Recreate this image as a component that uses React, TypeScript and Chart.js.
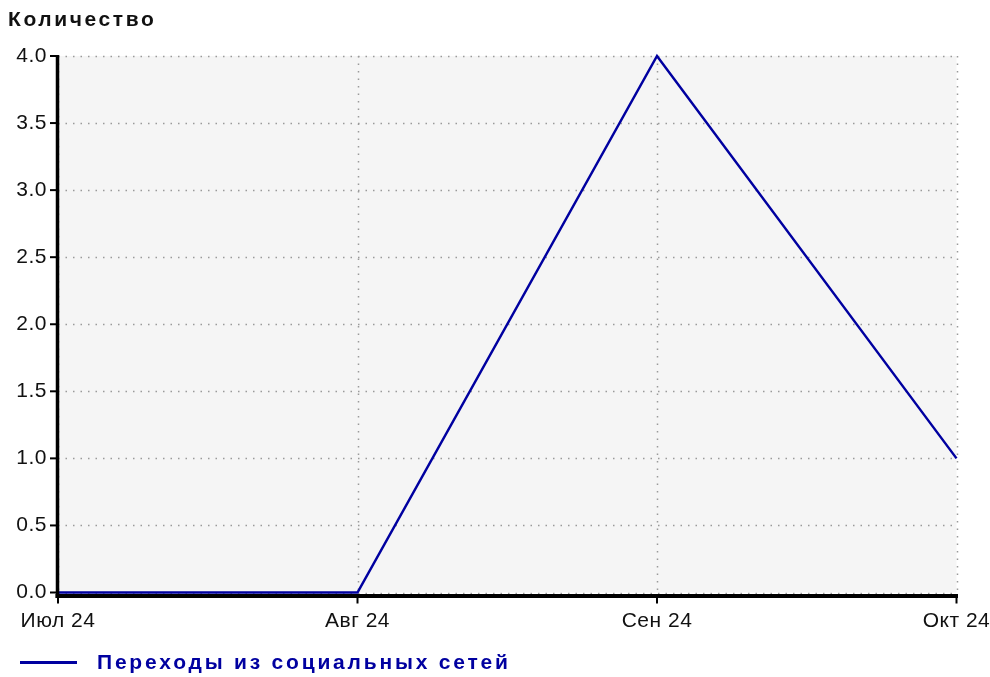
import React, { useEffect, useRef } from "react";
import { Chart, registerables } from "chart.js";

Chart.register(...registerables);

const categories = ["Июл 24", "Авг 24", "Сен 24", "Окт 24"];
const seriesValues = [0, 0, 4, 1];
const seriesName = "Переходы из социальных сетей";
const yTitle = "Количество";
const yTicks = [0, 0.5, 1, 1.5, 2, 2.5, 3, 3.5, 4];

const LINE_COLOR = "#0000a0";
const FONT = "'Liberation Sans', Arial, sans-serif";

const decorPlugin = {
  id: "decor",
  beforeLayout(chart: any) {
    chart.ctx.letterSpacing = "0.5px";
  },
  beforeDraw(chart: any) {
    const { ctx, chartArea } = chart;
    ctx.save();
    ctx.fillStyle = "#ffffff";
    ctx.fillRect(0, 0, chart.width, chart.height);
    ctx.fillStyle = "#f5f5f5";
    ctx.fillRect(chartArea.left, chartArea.top, chartArea.right - chartArea.left, chartArea.bottom - chartArea.top);
    ctx.restore();
    ctx.letterSpacing = "0.5px";
  },
  beforeDatasetsDraw(chart: any) {
    const { ctx, chartArea } = chart;
    const xs = chart.scales.x;
    const ys = chart.scales.y;
    ctx.save();
    ctx.strokeStyle = "#9a9a9a";
    ctx.lineWidth = 1.5;
    ctx.setLineDash([1.5, 6]);
    yTicks.forEach((v) => {
      const y = Math.round(ys.getPixelForValue(v)) + 0.5;
      ctx.beginPath();
      ctx.moveTo(chartArea.left, y);
      ctx.lineTo(chartArea.right, y);
      ctx.stroke();
    });
    categories.forEach((_, i) => {
      const x = Math.round(xs.getPixelForValue(i)) + 0.5;
      ctx.beginPath();
      ctx.moveTo(x, chartArea.top);
      ctx.lineTo(x, chartArea.bottom);
      ctx.stroke();
    });
    ctx.restore();
  },
  afterDatasetsDraw(chart: any) {
    const { ctx, chartArea } = chart;
    const xs = chart.scales.x;
    const ys = chart.scales.y;
    ctx.save();
    ctx.setLineDash([]);
    ctx.strokeStyle = "#000000";
    // left axis
    ctx.lineWidth = 3.5;
    ctx.beginPath();
    ctx.moveTo(chartArea.left - 0.5, chartArea.top - 1);
    ctx.lineTo(chartArea.left - 0.5, chartArea.bottom + 5.5);
    ctx.stroke();
    // bottom axis
    ctx.lineWidth = 4;
    ctx.beginPath();
    ctx.moveTo(chartArea.left - 2.5, chartArea.bottom + 3.5);
    ctx.lineTo(chartArea.right + 1.5, chartArea.bottom + 3.5);
    ctx.stroke();
    // y tick marks
    ctx.lineWidth = 2;
    yTicks.forEach((v) => {
      const y = ys.getPixelForValue(v);
      ctx.beginPath();
      ctx.moveTo(chartArea.left - 8, y);
      ctx.lineTo(chartArea.left, y);
      ctx.stroke();
    });
    // x tick marks
    categories.forEach((_, i) => {
      const x = xs.getPixelForValue(i);
      ctx.beginPath();
      ctx.moveTo(x, chartArea.bottom + 3.5);
      ctx.lineTo(x, chartArea.bottom + 11);
      ctx.stroke();
    });
    ctx.restore();
  },
  afterDraw(chart: any) {
    const { ctx } = chart;
    ctx.save();
    // title
    ctx.letterSpacing = "2.6px";
    ctx.fillStyle = "#111111";
    ctx.font = `bold 21px ${FONT}`;
    ctx.textBaseline = "middle";
    ctx.textAlign = "left";
    ctx.fillText(yTitle, 8, 20);
    // legend
    ctx.strokeStyle = LINE_COLOR;
    ctx.lineWidth = 3;
    ctx.beginPath();
    ctx.moveTo(20, 662.5);
    ctx.lineTo(77, 662.5);
    ctx.stroke();
    ctx.fillStyle = LINE_COLOR;
    ctx.letterSpacing = "2.8px";
    ctx.fillText(seriesName, 97, 663);
    ctx.restore();
  },
};

export default function App() {
  const ref = useRef<HTMLCanvasElement | null>(null);
  useEffect(() => {
    document.body.style.margin = "0";
    const canvas = ref.current!;
    const chart = new Chart(canvas, {
      type: "line",
      data: {
        labels: categories,
        datasets: [
          {
            label: seriesName,
            data: seriesValues,
            borderColor: LINE_COLOR,
            backgroundColor: LINE_COLOR,
            borderWidth: 2.5,
            pointRadius: 0,
            tension: 0,
            clip: false as any,
          },
        ],
      },
      options: {
        animation: false,
        responsive: false,
        maintainAspectRatio: false,
        layout: { padding: { top: 56, right: 33.5, left: 0, bottom: 0 } },
        plugins: {
          legend: { display: false },
          title: { display: false },
          tooltip: { enabled: false },
        },
        scales: {
          x: {
            type: "category",
            offset: false,
            grid: { display: false, drawTicks: false },
            border: { display: false },
            ticks: {
              color: "#111111",
              font: { family: FONT, size: 21 },
              padding: 16,
              maxRotation: 0,
              autoSkip: false,
            },
            afterFit: (s: any) => {
              s.height = 84.5;
              s.paddingLeft = 0;
              s.paddingRight = 0;
            },
          },
          y: {
            min: 0,
            max: 4,
            grid: { display: false, drawTicks: false },
            border: { display: false },
            ticks: {
              stepSize: 0.5,
              color: "#111111",
              font: { family: FONT, size: 21 },
              padding: 11,
              callback: (v: any) => Number(v).toFixed(1),
            },
            afterFit: (s: any) => {
              s.width = 58;
              s.paddingTop = 0;
              s.paddingBottom = 0;
            },
          },
        },
      },
      plugins: [decorPlugin],
    });
    return () => chart.destroy();
  }, []);
  return (
    <div style={{ width: 990, height: 677 }}>
      <canvas ref={ref} width={990} height={677} style={{ display: "block" }} />
    </div>
  );
}
